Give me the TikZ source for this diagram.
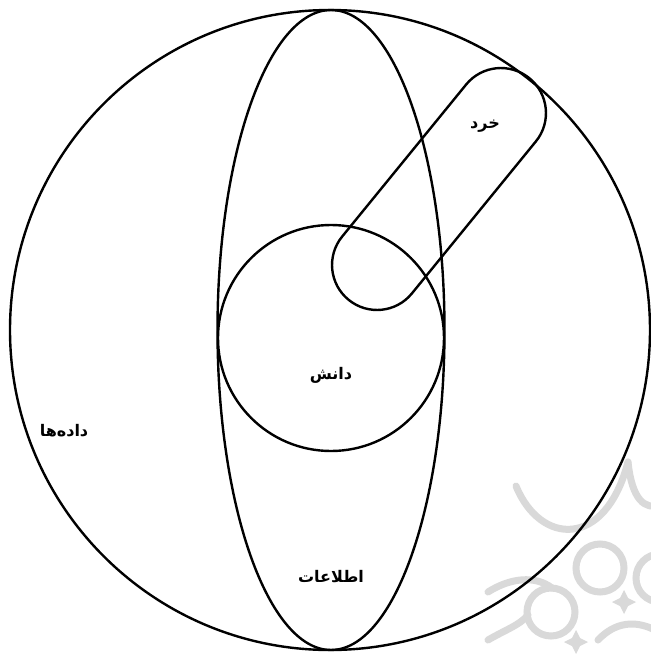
\documentclass[tikz,border=0pt]{standalone}
\usepackage{fontspec}
\TeXXeTstate=1
\newfontfamily\arabicfont[Script=Arabic]{DejaVu Sans}
\definecolor{wmgray}{HTML}{D9D9D9}
\tikzset{
  shape line/.style={draw=black, line width=2.4pt},
  wm/.style={draw=wmgray, line width=7pt, line cap=round},
  lbl/.style={font=\arabicfont\bfseries\fontsize{16}{18}\selectfont, inner sep=0pt}
}
\begin{document}
\begin{tikzpicture}[x=1pt,y=-1pt]
\useasboundingbox[fill=white] (0,0) rectangle (651,654);
% watermark (light grey ornament, bottom right)
\begin{scope}
\clip (0,0) rectangle (651,654);
\draw[wm] (516,486) .. controls (540,545) and (605,550) .. (628,462);
\draw[wm] (628,462) .. controls (632,500) and (645,510) .. (660,505);
\draw[wm] (600,568) circle [radius=24];
\draw[wm] (551,612) circle [radius=24];
\draw[wm] (660,578) circle [radius=24];
\draw[wm] (488,592) .. controls (510,578) and (535,575) .. (552,588);
\draw[wm] (488,640) .. controls (505,630) and (520,625) .. (528,615);
\draw[wm] (598,640) .. controls (615,622) and (635,620) .. (655,630);
\fill[wmgray] (624,590) -- (628,598) -- (636,602) -- (628,606) -- (624,614) -- (620,606) -- (612,602) -- (620,598) -- cycle;
\fill[wmgray] (576,630) -- (580,638) -- (588,642) -- (580,646) -- (576,654) -- (572,646) -- (564,642) -- (572,638) -- cycle;
\end{scope}
% shapes
\draw[shape line] (330,330) circle [radius=320];
\draw[shape line] (331,330) ellipse [x radius=113.5, y radius=320];
\draw[shape line] (331,338) circle [radius=113];
\begin{scope}[shift={(439,189)}, rotate=50.8]
\draw[shape line, rounded corners=44.9pt] (-143,-45) rectangle (143,45);
\end{scope}
% labels
\node[lbl] (kherad) at (485,126) {\beginR خرد\endR};
\node[lbl] (danesh) at (331,375) {\beginR دانش\endR};
\node[lbl] (dadeha) at (64,431) {\beginR داده‌ها\endR};
\node[lbl] (ettelaat) at (331,577) {\beginR اطلاعات\endR};
\end{tikzpicture}
\end{document}
